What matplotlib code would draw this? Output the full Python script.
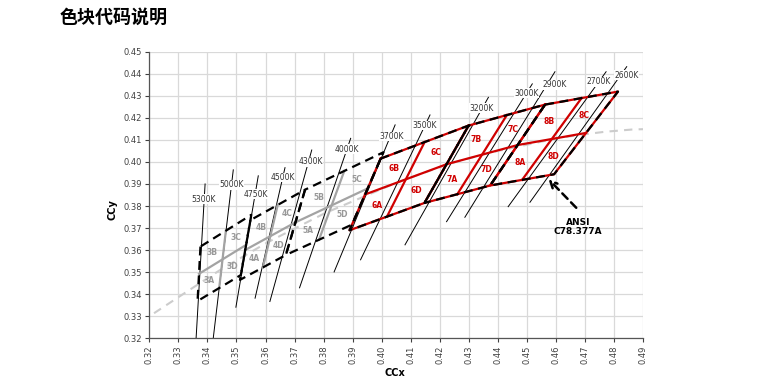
import matplotlib
matplotlib.use('Agg')
import numpy as np
import matplotlib.pyplot as plt

plt.rcParams['font.family'] = ['DejaVu Sans']

# ANSI C78.377A quadrangles, corners: top-left, bottom-left, bottom-right, top-right
bin_codes = ['3', '4', '5', '6', '7', '8']
red_codes = ['6', '7', '8']
quad_x = [
    [0.3376, 0.3366, 0.3515, 0.3551],   # 5000K
    [0.3548, 0.3512, 0.3670, 0.3736],   # 4500K
    [0.3736, 0.3670, 0.3898, 0.4006],   # 4000K
    [0.3996, 0.3889, 0.4147, 0.4299],   # 3500K
    [0.4299, 0.4147, 0.4373, 0.4562],   # 3000K
    [0.4562, 0.4373, 0.4593, 0.4813],   # 2700K
]
quad_y = [
    [0.3616, 0.3369, 0.3487, 0.3760],
    [0.3736, 0.3465, 0.3578, 0.3874],
    [0.3874, 0.3578, 0.3716, 0.4044],
    [0.4015, 0.3690, 0.3814, 0.4165],
    [0.4165, 0.3814, 0.3893, 0.4260],
    [0.4260, 0.3893, 0.3944, 0.4319],
]

# isotherm lines (top end -> bottom end) and their labels
cct_labels = ['5300K', '5000K', '4750K', '4500K', '4300K', '4000K', '3700K',
              '3500K', '3200K', '3000K', '2900K', '2700K', '2600K']
iso_x_top = [0.3392, 0.3489, 0.3575, 0.3667, 0.3759, 0.3893, 0.4046,
             0.4166, 0.4367, 0.4518, 0.4596, 0.4772, 0.4843]
iso_y_top = [0.3900, 0.3964, 0.3937, 0.3974, 0.4054, 0.4107, 0.4168,
             0.4213, 0.4293, 0.4354, 0.4409, 0.4409, 0.4432]
iso_x_bot = [0.3361, 0.3420, 0.3498, 0.3564, 0.3615, 0.3717, 0.3836,
             0.3927, 0.4080, 0.4223, 0.4286, 0.4435, 0.4510]
iso_y_bot = [0.3200, 0.3200, 0.3341, 0.3382, 0.3367, 0.3429, 0.3501,
             0.3556, 0.3624, 0.3729, 0.3749, 0.3797, 0.3817]
lbl_x = [0.3388, 0.3484, 0.3567, 0.3659, 0.3755, 0.3879, 0.4034,
         0.4146, 0.4344, 0.4499, 0.4596, 0.4745, 0.4843]
lbl_y = [0.3831, 0.3896, 0.3854, 0.3929, 0.4001, 0.4058, 0.4115,
         0.4165, 0.4243, 0.4311, 0.4349, 0.4364, 0.4394]

# Planckian locus
planck_x = [0.3135, 0.3221, 0.3325, 0.3451, 0.3608, 0.3805, 0.4053,
            0.4231, 0.4369, 0.4599, 0.4683, 0.4770, 0.4862, 0.5018]
planck_y = [0.3236, 0.3318, 0.3408, 0.3516, 0.3636, 0.3768, 0.3907,
            0.3991, 0.4041, 0.4106, 0.4123, 0.4137, 0.4147, 0.4153]

RED = '#d00000'
GREY = '#a3a3a3'


def mid(p, q):
    return ((p[0] + q[0]) / 2, (p[1] + q[1]) / 2)


def intersect(a, b, c, d):
    # crossing point of line ab and line cd
    m = np.array([[b[0] - a[0], c[0] - d[0]], [b[1] - a[1], c[1] - d[1]]])
    t = np.linalg.solve(m, [c[0] - a[0], c[1] - a[1]])
    return (a[0] + t[0] * (b[0] - a[0]), a[1] + t[0] * (b[1] - a[1]))


fig = plt.figure(figsize=(7.61, 3.84), dpi=100)
ax = fig.add_axes([0.1962, 0.1190, 0.6491, 0.7464])

ax.plot(planck_x, planck_y, color='#cccccc', lw=1.5, dashes=(4, 3), zorder=2)

for i in range(len(cct_labels)):
    ax.plot([iso_x_top[i], iso_x_bot[i]], [iso_y_top[i], iso_y_bot[i]],
            color='black', lw=0.7, zorder=3)
    ax.text(lbl_x[i], lbl_y[i], cct_labels[i], fontsize=5.5, color='#333333',
            ha='center', va='center', zorder=6,
            bbox=dict(fc='white', ec='none', pad=0.3))

for code, qx, qy in zip(bin_codes, quad_x, quad_y):
    tl, bl, br, tr = list(zip(qx, qy))
    lm, rm = mid(tl, bl), mid(tr, br)
    tm, bm = mid(tl, tr), mid(bl, br)
    c = intersect(lm, rm, tm, bm)
    red = code in red_codes
    col = RED if red else GREY
    ax.plot([lm[0], rm[0]], [lm[1], rm[1]], color=col, lw=1.6, zorder=4)
    ax.plot([tm[0], bm[0]], [tm[1], bm[1]], color=col, lw=1.6, zorder=4)
    ox = [tl[0], bl[0], br[0], tr[0], tl[0]]
    oy = [tl[1], bl[1], br[1], tr[1], tl[1]]
    if red:
        ax.plot(ox, oy, color=RED, lw=1.6, zorder=4)
    ax.plot(ox, oy, color='black', lw=1.6, dashes=(4, 2.5), zorder=5)

    subs = {'A': [bl, bm, c, lm], 'B': [tl, lm, c, tm],
            'C': [tr, tm, c, rm], 'D': [br, rm, c, bm]}
    for letter, pts in subs.items():
        cx = np.mean([p[0] for p in pts])
        cy = np.mean([p[1] for p in pts])
        ax.text(cx, cy, code + letter, fontsize=5.5, fontweight='bold',
                color=RED if red else '#999999', ha='center', va='center', zorder=6)

# ANSI pointer
ax.annotate('', xy=(0.4567, 0.3931), xytext=(0.4676, 0.3783),
            arrowprops=dict(arrowstyle='->', color='black', lw=1.8,
                            linestyle=(0, (3, 2)), mutation_scale=12), zorder=7)
ax.text(0.4675, 0.3705, 'ANSI\nC78.377A', fontsize=6.5, fontweight='bold',
        ha='center', va='center', linespacing=1.1, zorder=7)

ax.set_xlim(0.32, 0.49)
ax.set_ylim(0.32, 0.45)
ax.set_xticks(np.arange(0.32, 0.4901, 0.01))
ax.set_yticks(np.arange(0.32, 0.4501, 0.01))
ax.set_xticklabels(['%.2f' % v for v in np.arange(0.32, 0.4901, 0.01)], rotation=90)
ax.set_yticklabels(['%.2f' % v for v in np.arange(0.32, 0.4501, 0.01)])
ax.tick_params(labelsize=6, colors='#404040', length=3, width=0.8, pad=2)
ax.grid(True, color='#d9d9d9', lw=0.9, zorder=0)
ax.set_axisbelow(True)
for s in ['top', 'right']:
    ax.spines[s].set_visible(False)
for s in ['left', 'bottom']:
    ax.spines[s].set_color('#555555')
    ax.spines[s].set_linewidth(0.9)

fig.text(112 / 761, 1 - 210 / 384, 'CCy', rotation=90, fontsize=7,
         fontweight='bold', ha='center', va='center')
fig.text(395 / 761, 1 - 373 / 384, 'CCx', fontsize=7, fontweight='bold',
         ha='center', va='center')
fig.text(60 / 761, 1 - 17 / 384, '色块代码说明', fontsize=13, fontweight='bold',
         family=['Noto Sans CJK SC', 'DejaVu Sans'], ha='left', va='center')

fig.savefig('out.png', dpi=100)
